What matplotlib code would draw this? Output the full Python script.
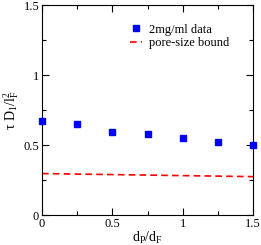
import matplotlib
matplotlib.use("Agg")
import matplotlib.pyplot as plt
from matplotlib.ticker import MultipleLocator

plt.rcParams['font.family'] = ['Liberation Serif', 'DejaVu Serif']
plt.rcParams['mathtext.fontset'] = 'custom'
plt.rcParams['mathtext.rm'] = 'Liberation Serif'
plt.rcParams['mathtext.it'] = 'Liberation Serif'

x_data = [0, 0.25, 0.5, 0.75, 1.0, 1.25, 1.5]
y_data = [0.67, 0.648, 0.593, 0.579, 0.55, 0.521, 0.5]
x_bound = [0, 1.5]
y_bound = [0.296, 0.274]

fig = plt.figure(figsize=(2.61, 2.45), dpi=100)
ax = fig.add_axes([42/261, 30/245, 211/261, 210/245])
ax.plot(x_data, y_data, 's', color='#0000ff', markersize=5, label='2mg/ml data', clip_on=False, zorder=3)
ax.plot(x_bound, y_bound, '--', color='#ff0000', lw=1.2, dashes=(4, 2.5), label='pore-size bound')
ax.set_xlim(0, 1.5)
ax.set_ylim(0, 1.5)
ax.xaxis.set_major_locator(MultipleLocator(0.5))
ax.xaxis.set_minor_locator(MultipleLocator(0.25))
ax.yaxis.set_major_locator(MultipleLocator(0.5))
ax.yaxis.set_minor_locator(MultipleLocator(0.25))
ax.xaxis.set_major_formatter(plt.FuncFormatter(lambda v, p: f"{v:g}"))
ax.yaxis.set_major_formatter(plt.FuncFormatter(lambda v, p: f"{v:g}"))
ax.tick_params(which='both', direction='in', top=True, right=True, labelsize=9, pad=2)
ax.tick_params(which='major', length=5, width=0.8)
ax.tick_params(which='minor', length=3, width=0.8)
ax.set_xlabel(r'd$_\mathregular{P}$/d$_\mathregular{F}$', fontsize=10, labelpad=0)
ax.set_ylabel(r'$\tau$ D$_\mathregular{1}$/l$^\mathregular{2}_\mathregular{F}$', fontsize=10, labelpad=2)
ax.legend(loc='upper left', bbox_to_anchor=(0.393, 0.934), frameon=False, fontsize=9,
          handlelength=1.0, handletextpad=0.5, labelspacing=0.12, markerscale=0.9,
          borderaxespad=0)
fig.savefig('out.png', dpi=100)
